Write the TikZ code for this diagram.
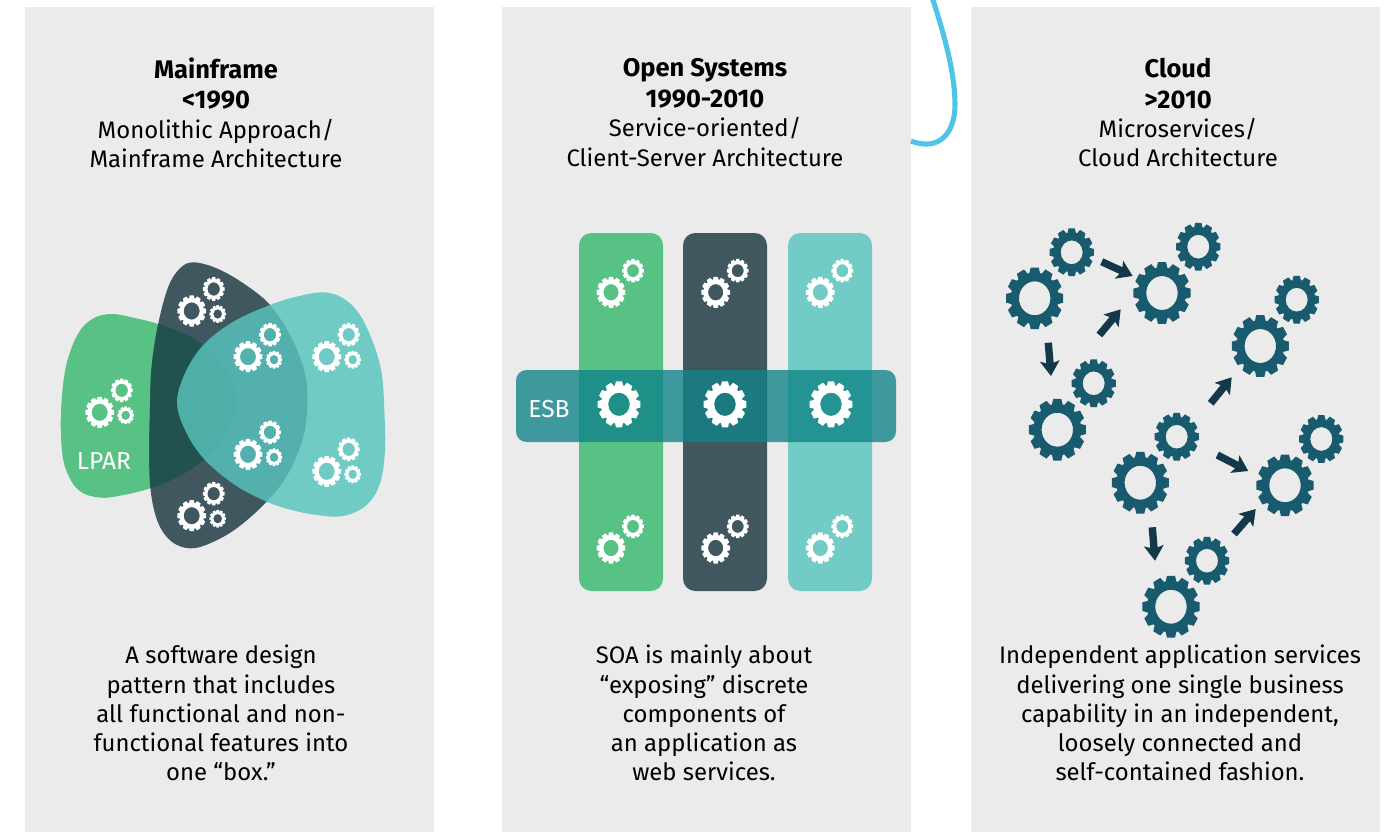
\documentclass[tikz,border=0pt]{standalone}
\usepackage{fontspec}
\setmainfont{Fira Sans}
\usetikzlibrary{arrows.meta}
\definecolor{panelgrey}{HTML}{EBEBEB}
\definecolor{lpargreen}{HTML}{58C184}
\definecolor{slatedark}{HTML}{41575F}
\definecolor{overlapdark}{HTML}{22524D}
\definecolor{paleteal}{HTML}{57C4BD}
\definecolor{flatteal}{HTML}{72CBC5}
\definecolor{esbteal}{HTML}{108488}
\definecolor{cogblue}{HTML}{185A6E}
\definecolor{flowdark}{HTML}{12384A}
\definecolor{swoosh}{HTML}{4FC3E8}
\newcommand{\headbf}[1]{{\fontsize{14.5}{16.6}\selectfont\textbf{#1}}}
\tikzset{
  heading/.style={align=center, font=\fontsize{13.6}{16.6}\selectfont},
  blurb/.style={align=center, font=\fontsize{13.6}{16.6}\selectfont},
  tag/.style={text=white, font=\fontsize{14}{16.6}\selectfont},
  flow/.style={draw=flowdark, line width=4.2pt, -{Stealth[length=8.5pt,width=11pt,inset=1.8pt]}}
}
\newcommand{\cog}[5]{
  \fill[#5, even odd rule, shift={(#1,#2)}, yscale=1.08] (-13:{.83*#3})
    \foreach \a in {0,30,...,330} {
      -- ({\a-13}:{.83*#3}) -- ({\a-8}:#3) -- ({\a+8}:#3) -- ({\a+13}:{.83*#3})
    } -- cycle (0,0) circle [radius=#4];
}
% big, middle and little cog of one group
\newcommand{\cogtriple}[2]{
  \cog{#1}{#2}{14.5}{8}{white}
  \cog{#1+22}{#2-22}{11}{6.2}{white}
  \cog{#1+26}{#2+3}{8.3}{4.4}{white}
}
\newcommand{\cogpair}[2]{
  \cog{#1}{#2}{14.5}{7.6}{white}
  \cog{#1+22}{#2-21.6}{11}{6}{white}
}
\newcommand{\cloudcog}[2]{
  \cog{#1}{#2}{28.8}{15.7}{cogblue}
}
\newcommand{\cloudsmall}[2]{
  \cog{#1}{#2}{22.3}{11}{cogblue}
}
\def\greenblob{plot[smooth cycle, tension=.6] coordinates {(185,192) (250,203) (325,222) (400,250) (460,285) (520,350) (560,460) (525,560) (460,630) (385,680) (300,715) (220,735) (150,743) (85,720) (45,650) (33,560) (35,450) (50,340) (85,250) (130,205)}}
\def\darkblob{plot[smooth cycle, tension=.6] coordinates {(430,37) (500,55) (580,100) (660,165) (725,265) (765,370) (772,460) (760,560) (715,670) (650,755) (560,835) (480,880) (420,895) (365,875) (325,820) (303,730) (298,620) (300,480) (305,350) (325,220) (355,110) (390,55)}}
\def\tealblob{plot[smooth cycle, tension=.6] coordinates {(820,127) (880,145) (930,195) (970,280) (995,370) (1003,480) (1005,600) (990,700) (950,765) (880,798) (800,795) (725,780) (650,755) (555,705) (465,630) (410,550) (381,460) (405,370) (460,285) (550,215) (660,165) (740,140)}}

\begin{document}
\begin{tikzpicture}[x=0.02cm, y=-0.02cm]
  \useasboundingbox (0,0) rectangle (1394,832);
  \fill[panelgrey] (25,7) rectangle (434,832);
  \fill[panelgrey] (502,7) rectangle (911,832);
  \fill[panelgrey] (971,7) rectangle (1380,832);
  \draw[swoosh, line width=2.9pt] (932,-3) .. controls (946,40) and (955,75) .. (955,105) .. controls (955,132) and (940,152) .. (911,141);

  % Mainframe
  \begin{scope}[shift={(50,250)}, scale=1/3]
    \fill[lpargreen] \greenblob;
    \fill[slatedark] \darkblob;
    \begin{scope}
      \clip \greenblob;
      \fill[overlapdark] \darkblob;
    \end{scope}
    \fill[paleteal, opacity=.82] \tealblob;
  \end{scope}
  \cogtriple{99.7}{412.3}
  \cogtriple{191.7}{311}
  \cogtriple{248}{356.7}
  \cogtriple{326.7}{356.7}
  \cogtriple{248}{454.3}
  \cogtriple{326.7}{471.3}
  \cogtriple{191.7}{515.7}
  \node[tag] (lpar) at (104,461) {LPAR};

  % Open Systems
  \fill[lpargreen, rounded corners=7pt] (579,233) rectangle (663,591);
  \fill[slatedark, rounded corners=7pt] (683,233) rectangle (767,591);
  \fill[flatteal, rounded corners=7pt] (788,233) rectangle (872,591);
  \fill[esbteal, opacity=.79, rounded corners=6pt] (516,370) rectangle (896,442);
  \foreach \x in {611,715.7,820.3} {
    \cogpair{\x}{292.3}
    \cogpair{\x}{548}
  }
  \foreach \x in {619,725,831} {
    \cog{\x}{404.3}{21.5}{10.8}{white}
  }
  \node[tag] (esb) at (549,409) {ESB};

  % Cloud
  \cloudcog{1034.7}{298.3}
  \cloudsmall{1071.7}{252.3}
  \cloudcog{1162}{293}
  \cloudsmall{1198.3}{246.7}
  \cloudcog{1057.3}{429.7}
  \cloudsmall{1093.7}{383.3}
  \cloudcog{1260.3}{346}
  \cloudsmall{1296.7}{299.7}
  \cloudcog{1140.3}{482.7}
  \cloudsmall{1176.7}{436.7}
  \cloudcog{1285}{485.3}
  \cloudsmall{1321.3}{439}
  \cloudcog{1171}{606.7}
  \cloudsmall{1207}{560.7}

  \coordinate (tailA) at (1101.7,261.7);
  \coordinate (tipA) at (1132.7,276);
  \coordinate (tailB) at (1099.3,335);
  \coordinate (tipB) at (1120.7,309.3);
  \coordinate (tailC) at (1048.3,342.7);
  \coordinate (tipC) at (1051,376);
  \coordinate (tailD) at (1210.7,403.3);
  \coordinate (tipD) at (1231.7,377.3);
  \coordinate (tailE) at (1217.3,455);
  \coordinate (tipE) at (1248.3,471);
  \coordinate (tailF) at (1234,534);
  \coordinate (tipF) at (1255.7,509);
  \coordinate (tailG) at (1152.3,527.3);
  \coordinate (tipG) at (1155,560.7);
  \draw[flow] (tailA) -- (tipA);
  \draw[flow] (tailB) -- (tipB);
  \draw[flow] (tailC) -- (tipC);
  \draw[flow] (tailD) -- (tipD);
  \draw[flow] (tailE) -- (tipE);
  \draw[flow] (tailF) -- (tipF);
  \draw[flow] (tailG) -- (tipG);

  \node[heading] (titleMain) at (216,112.5) {\headbf{Mainframe}\\[1pt]\headbf{<1990}\\Monolithic Approach/\\Mainframe Architecture};
  \node[heading] (titleOpen) at (705,112.5) {\headbf{Open Systems}\\[1pt]\headbf{1990-2010}\\Service-oriented/\\Client-Server Architecture};
  \node[heading] (titleCloud) at (1178,112.5) {\headbf{Cloud}\\[1pt]\headbf{>2010}\\Microservices/\\Cloud Architecture};

  \node[blurb] (textMain) at (221,713) {A software design\\pattern that includes\\all functional and non-\\functional features into\\one “box.”};
  \node[blurb] (textOpen) at (704,713) {SOA is mainly about\\“exposing” discrete\\components of\\an application as\\web services.};
  \node[blurb] (textCloud) at (1180,713) {Independent application services\\delivering one single business\\capability in an independent,\\loosely connected and\\self-contained fashion.};
\end{tikzpicture}
\end{document}
